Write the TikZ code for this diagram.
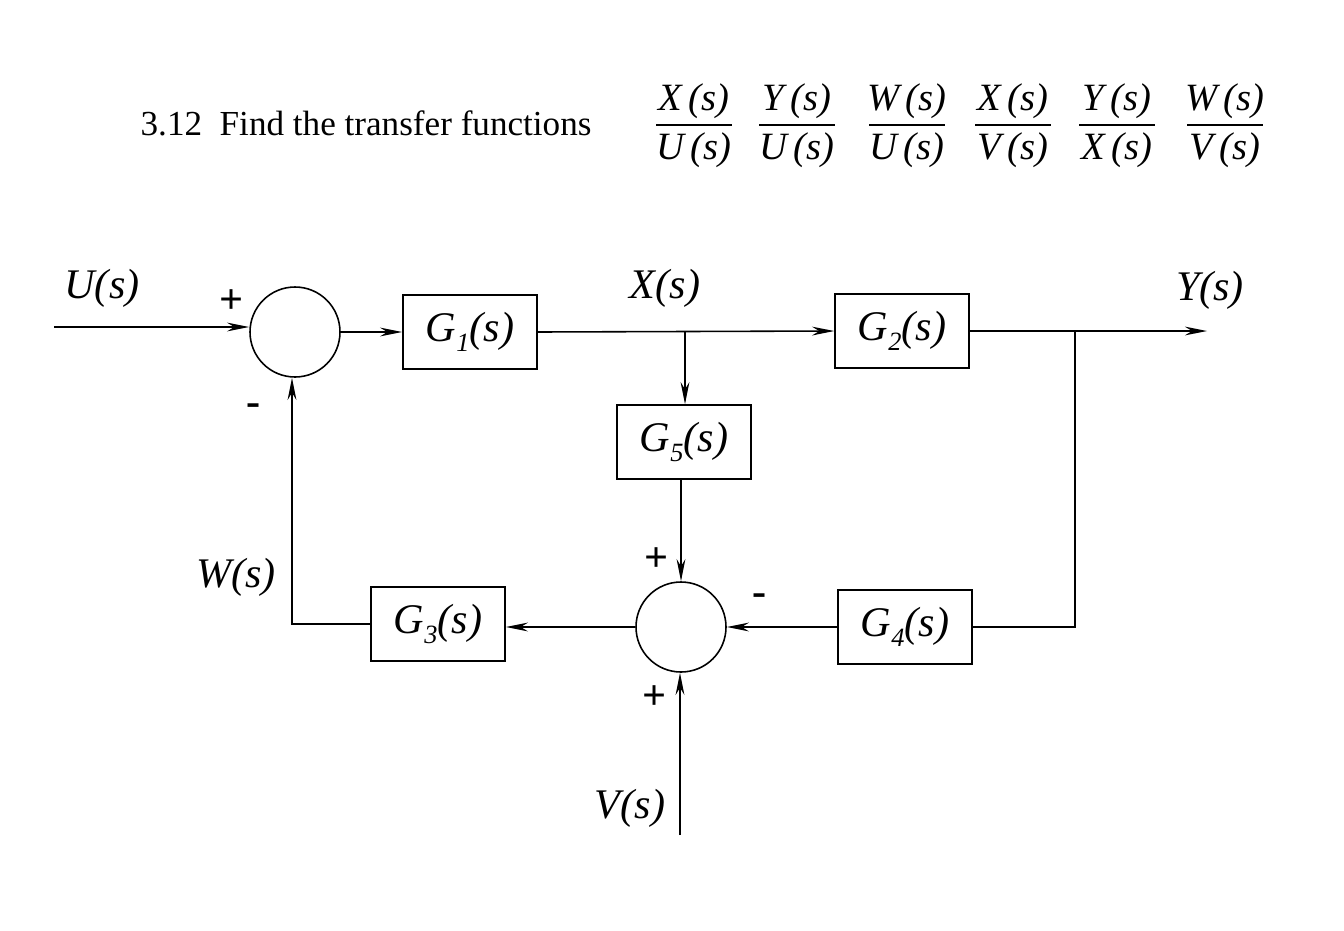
\documentclass[tikz,border=0pt]{standalone}
\usepackage{fontspec}
\setmainfont{Liberation Serif}
\usetikzlibrary{arrows.meta}
\newcommand{\sbs}[1]{\raisebox{-0.5ex}{\fontsize{15}{16}\selectfont #1}}
\begin{document}
\begin{tikzpicture}[x=0.02cm,y=-0.02cm,
  blk/.style={draw,line width=0.9pt,minimum width=134*0.02cm,minimum height=74*0.02cm,inner sep=0pt,font=\fontsize{24}{26}\selectfont\itshape},
  sum/.style={draw,circle,line width=0.9pt,minimum size=90*0.02cm,inner sep=0pt},
  lbl/.style={font=\fontsize{24}{26}\selectfont\itshape},
  sgn/.style={font=\fontsize{24}{26}\selectfont\bfseries},
  fr/.style={font=\fontsize{22}{24}\selectfont\itshape},
  line width=0.9pt,
  arr/.style={-{Stealth[length=14pt*0.9,width=5pt]}}]
\useasboundingbox (0,0) rectangle (1344,930);
\node[anchor=west,font=\fontsize{20}{22}\selectfont] (title) at (134,123) {3.12\ \ Find the transfer functions};
\foreach \n/\d/\x [count=\i] in {X/U/694,Y/U/797,W/U/907,X/V/1013,Y/X/1117,W/V/1225}{
  \node[fr] (n\i) at (\x,101) {\n\,(s)};
  \node[fr] (d\i) at (\x,150) {\d\,(s)};
  \draw[line width=0.6pt] (\x-38,125) -- (\x+38,125);
}
\node[sum] (s1) at (295,332) {};
\node[sum] (s2) at (681,627) {};
\node[blk] (g1) at (470,332) {G\sbs{1}(s)};
\node[blk] (g2) at (902,331) {G\sbs{2}(s)};
\node[blk] (g5) at (684,442) {G\sbs{5}(s)};
\node[blk] (g4) at (905,627) {G\sbs{4}(s)};
\node[blk] (g3) at (438,624) {G\sbs{3}(s)};
\coordinate (uin) at (54,327);
\coordinate (yout) at (1207,331);
\coordinate (bx) at (685,331);
\coordinate (by) at (1075,331);
\coordinate (byd) at (1075,627);
\coordinate (wc) at (292,624);
\coordinate (vin) at (680,835);
\node[lbl] (U) at (102,288) {U(s)};
\node[lbl] (X) at (665,288) {X(s)};
\node[lbl] (Y) at (1210,290) {Y(s)};
\node[lbl] (W) at (236,577) {W(s)};
\node[lbl] (V) at (630,808) {V(s)};
\node[sgn] (p1) at (232,302) {+};
\node[sgn] (m1) at (254,410) {-};
\node[sgn] (p2) at (657,560) {+};
\node[sgn] (m2) at (760,600) {-};
\node[sgn] (p3) at (655,698) {+};
\draw[arr] (uin) -- (uin -| s1.west);
\draw[arr] (s1.east) -- (g1.west);
\draw[arr] (g1.east) -- (g2.west);
\draw[arr] (bx) -- (g5.north -| bx);
\draw[arr] (g5.south -| s2) -- (s2.north);
\draw[arr] (g2.east) -- (yout);
\draw (by) -- (byd) -- (g4.east |- byd);
\draw[arr] (g4.west) -- (s2.east);
\draw[arr] (s2.west) -- (g3.east |- s2);
\draw[arr] (g3.west) -- (wc) -- (wc |- s1.south);
\draw[arr] (vin) -- (vin |- s2.south);
\end{tikzpicture}
\end{document}
